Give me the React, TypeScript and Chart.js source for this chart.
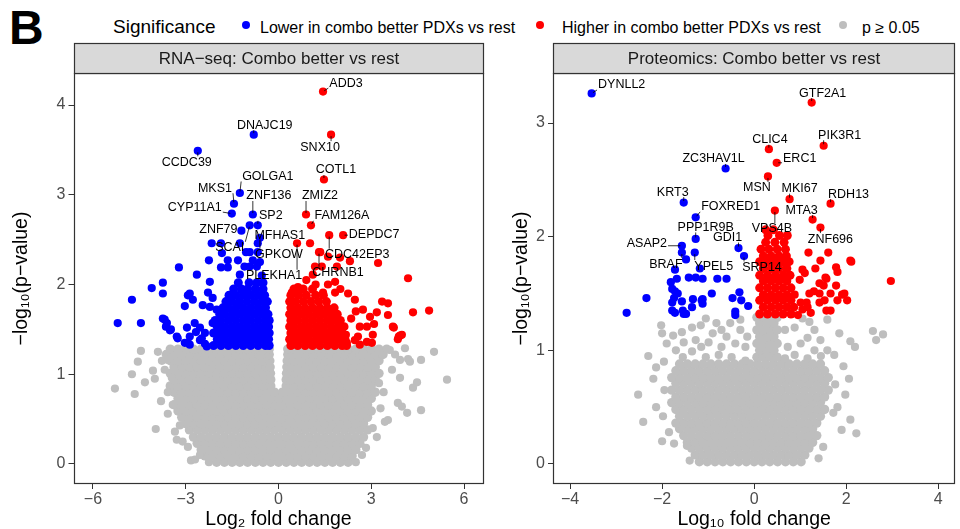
import React, { useEffect, useRef } from 'react';
import { Chart, registerables } from 'chart.js';

Chart.register(...registerables);

type Pt = [number, number];
type Row = [number, number[]];
type Lab = [string, number, number];

const FONT = '"Liberation Sans", Arial, Helvetica, sans-serif';

// ---------------- tick values ----------------
const rnaXTicks = [-6, -3, 0, 3, 6];
const rnaYTicks = [0, 1, 2, 3, 4];
const protXTicks = [-4, -2, 0, 2, 4];
const protYTicks = [0, 1, 2, 3];

// ---------------- RNA-seq: labelled genes (log2FC, -log10 p) ----------------
const rnaLowerLabelled: Lab[] = [
  ['DNAJC19', -0.8, 3.67], ['CCDC39', -2.61, 3.49], ['GOLGA1', -1.25, 3.02], ['MKS1', -1.44, 2.9],
  ['ZNF136', -0.83, 2.78], ['CYP11A1', -1.51, 2.79], ['SP2', -0.67, 2.66], ['ZNF79', -1.2, 2.6],
  ['SCAI', -0.93, 2.66], ['MFHAS1', -0.67, 2.46], ['GPKOW', -0.6, 2.52],
];
const rnaHigherLabelled: Lab[] = [
  ['ADD3', 1.44, 4.15], ['SNX10', 1.7, 3.67], ['COTL1', 1.47, 3.17], ['ZMIZ2', 0.89, 2.78],
  ['FAM126A', 1.05, 2.66], ['DEPDC7', 2.09, 2.55], ['CDC42EP3', 1.64, 2.55], ['PLEKHA1', 0.6, 2.46],
  ['CHRNB1', 1.31, 2.36],
];

// RNA-seq: other significant genes, lower in combo-better
const rnaLowerScatter: Pt[] = [
  [-2.16, 2.46], [-1.86, 2.46], [-1.25, 2.46], [-1.83, 2.35], [-0.93, 2.36], [-0.67, 2.36],
  [-2.25, 2.27], [-1.64, 2.27], [-1.31, 2.27], [-0.83, 2.27], [-3.22, 2.19], [-1.86, 2.19],
  [-1.64, 2.19], [-0.93, 2.2], [-0.7, 2.2], [-2.64, 2.11], [-1.25, 2.11], [-0.54, 2.1],
  [-3.74, 2.02], [-2.22, 2.03], [-4.1, 1.96], [-3.74, 1.9], [-2.87, 1.9], [-2.28, 1.91],
  [-2.93, 1.88], [-4.74, 1.83], [-2.77, 1.83], [-3.03, 1.76], [-2.45, 1.77], [-2.22, 1.75],
  [-2.0, 1.72], [-2.13, 1.85], [-5.2, 1.57], [-4.45, 1.57], [-3.74, 1.62], [-3.64, 1.53],
  [-3.48, 1.5], [-3.68, 1.61], [-3.61, 1.57], [-3.51, 1.49], [-3.29, 1.42], [-3.26, 1.4],
  [-2.96, 1.52], [-2.87, 1.42], [-2.71, 1.57], [-2.67, 1.47], [-2.54, 1.38], [-2.93, 1.35],
  [-2.32, 1.31], [-3.03, 1.35], [-2.87, 1.33], [-2.38, 1.34], [-2.48, 1.4], [-2.38, 1.46],
  [-2.54, 1.52], [-2.13, 1.57], [-1.05, 2.36], [-1.1, 2.2], [-0.6, 2.25],
];
const rnaLowerRows: Row[] = [
  [1.32, [-2.1, -1.86, -1.62, -1.38, -1.14, -0.9, -0.66, -0.42, -0.3]],
  [1.39, [-1.98, -1.74, -1.5, -1.26, -1.02, -0.78, -0.54, -0.32]],
  [1.46, [-2.1, -1.86, -1.62, -1.38, -1.14, -0.9, -0.66, -0.42, -0.3]],
  [1.53, [-1.98, -1.74, -1.5, -1.26, -1.02, -0.78, -0.54, -0.32]],
  [1.6, [-2.05, -1.86, -1.62, -1.38, -1.14, -0.9, -0.66, -0.42, -0.3]],
  [1.67, [-1.9, -1.74, -1.5, -1.26, -1.02, -0.78, -0.54, -0.34]],
  [1.74, [-1.8, -1.62, -1.38, -1.14, -0.9, -0.66, -0.42]],
  [1.81, [-1.7, -1.5, -1.26, -1.02, -0.78, -0.54, -0.36]],
  [1.88, [-1.6, -1.38, -1.14, -0.9, -0.66, -0.45]],
  [1.95, [-1.45, -1.2, -1.0, -0.75, -0.5]],
  [2.02, [-1.3, -0.95, -0.7, -0.5]],
];

// RNA-seq: other significant genes, higher in combo-better
const rnaHigherScatter: Pt[] = [
  [1.02, 2.46], [1.35, 2.36], [1.6, 2.31], [1.99, 2.3], [2.31, 2.26], [3.22, 2.24],
  [1.18, 2.2], [1.4, 2.2], [1.89, 2.2], [4.19, 2.07], [1.11, 2.11], [1.83, 2.03],
  [0.63, 1.97], [1.44, 1.91], [1.83, 1.91], [0.43, 1.91], [2.47, 1.83], [3.35, 1.81],
  [3.54, 1.79], [4.35, 1.69], [4.87, 1.71], [2.73, 1.72], [3.18, 1.69], [2.96, 1.64],
  [3.54, 1.66], [2.63, 1.53], [2.86, 1.53], [3.7, 1.53], [2.57, 1.42], [3.05, 1.44],
  [3.89, 1.42], [3.99, 1.44], [2.47, 1.38], [2.86, 1.36], [3.09, 1.56], [3.02, 1.35],
  [2.63, 1.33], [2.18, 1.44], [2.21, 1.35], [3.73, 1.52], [3.93, 1.43], [3.86, 1.39],
  [2.35, 1.62], [2.5, 1.7], [2.25, 1.9], [0.9, 2.05], [1.2, 2.0], [1.6, 2.0], [2.0, 1.95],
];
const rnaHigherRows: Row[] = [
  [1.32, [0.4, 0.62, 0.86, 1.1, 1.34, 1.58, 1.82, 2.06, 2.2]],
  [1.39, [0.36, 0.5, 0.74, 0.98, 1.22, 1.46, 1.7, 1.94, 2.15]],
  [1.46, [0.4, 0.62, 0.86, 1.1, 1.34, 1.58, 1.82, 2.06]],
  [1.53, [0.36, 0.5, 0.74, 0.98, 1.22, 1.46, 1.7, 1.94, 2.12]],
  [1.6, [0.4, 0.62, 0.86, 1.1, 1.34, 1.58, 1.82, 2.0]],
  [1.67, [0.36, 0.5, 0.74, 0.98, 1.22, 1.46, 1.7, 1.9]],
  [1.74, [0.4, 0.62, 0.86, 1.1, 1.34, 1.58, 1.8]],
  [1.81, [0.36, 0.55, 0.8, 1.05, 1.3, 1.55]],
  [1.88, [0.4, 0.65, 0.9, 1.2, 1.45]],
  [1.95, [0.5, 0.8, 1.1]],
];

// RNA-seq: non-significant genes (p >= 0.05)
const rnaNsRows: Row[] = [
  [0.02, [-2, -1.75, -1.5, -1.25, -1, -0.75, -0.5, -0.25, 0, 0.25, 0.5, 0.75, 1, 1.25, 1.5, 1.75, 2, 2.25]],
  [0.09, [-2.38, -2.13, -1.88, -1.63, -1.38, -1.13, -0.88, -0.63, -0.38, -0.13, 0.13, 0.38, 0.63, 0.88, 1.13, 1.38, 1.63, 1.88, 2.13, 2.38]],
  [0.16, [-2.5, -2.25, -2, -1.75, -1.5, -1.25, -1, -0.75, -0.5, -0.25, 0, 0.25, 0.5, 0.75, 1, 1.25, 1.5, 1.75, 2, 2.25, 2.5]],
  [0.23, [-2.63, -2.38, -2.13, -1.88, -1.63, -1.38, -1.13, -0.88, -0.63, -0.38, -0.13, 0.13, 0.38, 0.63, 0.88, 1.13, 1.38, 1.63, 1.88, 2.13, 2.38, 2.63]],
  [0.3, [-2.75, -2.5, -2.25, -2, -1.75, -1.5, -1.25, -1, -0.75, -0.5, -0.25, 0, 0.25, 0.5, 0.75, 1, 1.25, 1.5, 1.75, 2, 2.25, 2.5, 2.75]],
  [0.38, [-2.88, -2.63, -2.38, -2.13, -1.88, -1.63, -1.38, -1.13, -0.88, -0.63, -0.38, -0.13, 0.13, 0.38, 0.63, 0.88, 1.13, 1.38, 1.63, 1.88, 2.13, 2.38, 2.63, 2.88]],
  [0.45, [-3, -2.75, -2.5, -2.25, -2, -1.75, -1.5, -1.25, -1, -0.75, -0.5, -0.25, 0, 0.25, 0.5, 0.75, 1, 1.25, 1.5, 1.75, 2, 2.25, 2.5, 2.75]],
  [0.52, [-3.13, -2.88, -2.63, -2.38, -2.13, -1.88, -1.63, -1.38, -1.13, -0.88, -0.63, -0.38, -0.13, 0.13, 0.38, 0.63, 0.88, 1.13, 1.38, 1.63, 1.88, 2.13, 2.38, 2.63, 2.88]],
  [0.59, [-3.25, -3, -2.75, -2.5, -2.25, -2, -1.75, -1.5, -1.25, -1, -0.75, -0.5, -0.25, 0, 0.25, 0.5, 0.75, 1, 1.25, 1.5, 1.75, 2, 2.25, 2.5, 2.75, 3]],
  [0.66, [-3.38, -3.13, -2.88, -2.63, -2.38, -2.13, -1.88, -1.63, -1.38, -1.13, -0.88, -0.63, -0.38, -0.13, 0.13, 0.38, 0.63, 0.88, 1.13, 1.38, 1.63, 1.88, 2.13, 2.38, 2.63, 2.88]],
  [0.73, [-3.25, -3, -2.75, -2.5, -2.25, -2, -1.75, -1.5, -1.25, -1, -0.75, -0.5, -0.25, 0, 0.25, 0.5, 0.75, 1, 1.25, 1.5, 1.75, 2, 2.25, 2.5, 2.75, 3]],
  [0.8, [-3.38, -3.13, -2.88, -2.63, -2.38, -2.13, -1.88, -1.63, -1.38, -1.13, -0.88, -0.63, -0.38, -0.13, 0.13, 0.38, 0.63, 0.88, 1.13, 1.38, 1.63, 1.88, 2.13, 2.38, 2.63, 2.88, 3.13]],
  [0.87, [-3.5, -3.25, -3, -2.75, -2.5, -2.25, -2, -1.75, -1.5, -1.25, -1, -0.75, -0.5, -0.25, 0.25, 0.5, 0.75, 1, 1.25, 1.5, 1.75, 2, 2.25, 2.5, 2.75, 3]],
  [0.94, [-3.38, -3.13, -2.88, -2.63, -2.38, -2.13, -1.88, -1.63, -1.38, -1.13, -0.88, -0.63, -0.4, -0.25, 0.25, 0.4, 0.63, 0.88, 1.13, 1.38, 1.63, 1.88, 2.13, 2.38, 2.63, 2.88, 3.13]],
  [1.01, [-3.5, -3.25, -3, -2.75, -2.5, -2.25, -2, -1.75, -1.5, -1.25, -1, -0.75, -0.5, -0.26, 0.26, 0.5, 0.75, 1, 1.25, 1.5, 1.75, 2, 2.25, 2.5, 2.75, 3, 3.25]],
  [1.08, [-3.38, -3.13, -2.88, -2.63, -2.38, -2.13, -1.88, -1.63, -1.38, -1.13, -0.88, -0.63, -0.4, -0.27, 0.27, 0.4, 0.63, 0.88, 1.13, 1.38, 1.63, 1.88, 2.13, 2.38, 2.63, 2.88, 3.13]],
  [1.15, [-3.5, -3.25, -3, -2.75, -2.5, -2.25, -2, -1.75, -1.5, -1.25, -1, -0.75, -0.5, -0.28, 0.28, 0.5, 0.75, 1, 1.25, 1.5, 1.75, 2, 2.25, 2.5, 2.75, 3, 3.25]],
  [1.22, [-3.63, -3.38, -3.13, -2.88, -2.63, -2.38, -2.13, -1.88, -1.63, -1.38, -1.13, -0.88, -0.63, -0.42, -0.3, 0.3, 0.42, 0.63, 0.88, 1.13, 1.38, 1.63, 1.88, 2.13, 2.38, 2.63, 2.88, 3.13, 3.38]],
  [1.28, [-3.5, -3.25, -3, -2.75, -2.5, -2.25, -2, -1.75, -1.5, -1.25, -1, -0.75, -0.5, -0.3, 0.3, 0.5, 0.75, 1, 1.25, 1.5, 1.75, 2, 2.25, 2.5, 2.75, 3, 3.25, 3.5]],
];
const rnaNsScatter: Pt[] = [
  [-5.29, 0.84], [-4.65, 0.78], [-4.74, 1.0], [-4.55, 1.14], [-4.45, 1.26], [-4.32, 0.91],
  [-4.06, 1.04], [-3.97, 0.39], [-3.77, 1.15], [-3.58, 1.16], [-3.68, 1.05], [-3.45, 0.96],
  [-3.58, 0.8], [-3.42, 0.66], [-3.35, 0.36], [-3.29, 0.27], [-3.58, 0.56], [-2.93, 0.19],
  [-2.83, 0.04], [-2.54, 0.1], [-3.19, 0.43], [-2.25, 0.02], [-3.9, 1.25], [-4.0, 0.95],
  [-3.8, 0.7], [-3.1, 0.25], [-2.7, 0.05],
  [5.45, 0.94], [5.03, 1.25], [4.61, 1.16], [4.25, 1.14], [4.19, 1.17], [4.61, 0.6],
  [4.16, 0.57], [4.35, 0.85], [4.48, 0.91], [3.93, 0.96], [3.99, 0.64], [3.86, 0.68],
  [3.54, 0.49], [3.44, 0.47], [3.18, 0.3], [2.83, 0.18], [2.5, 0.02], [2.7, 0.1],
  [3.93, 1.16], [3.77, 1.22], [4.09, 1.29], [3.67, 1.05], [3.4, 0.8], [3.3, 0.62],
  [3.05, 0.4], [3.6, 1.27], [3.25, 0.9],
];

// ---------------- Proteomics: labelled proteins (log10FC, -log10 p) ----------------
const protLowerLabelled: Lab[] = [
  ['DYNLL2', -3.53, 3.26], ['ZC3HAV1L', -0.62, 2.6], ['KRT3', -1.53, 2.3], ['FOXRED1', -1.27, 2.17],
  ['PPP1R9B', -1.27, 1.98], ['ASAP2', -1.57, 1.92], ['GDI1', -0.34, 1.9], ['BRAF', -1.57, 1.86],
  ['YPEL5', -1.29, 1.86], ['SRP14', -0.22, 1.83],
];
const protHigherLabelled: Lab[] = [
  ['GTF2A1', 1.25, 3.18], ['PIK3R1', 1.51, 2.8], ['CLIC4', 0.32, 2.77], ['ERC1', 0.49, 2.65],
  ['MSN', 0.3, 2.53], ['MKI67', 0.77, 2.33], ['RDH13', 1.66, 2.29], ['VPS4B', 0.45, 2.23],
  ['MTA3', 1.27, 2.15], ['ZNF696', 1.44, 2.08],
];
const protLowerScatter: Pt[] = [
  [-1.48, 1.8], [-1.72, 1.71], [-1.18, 1.72], [-1.42, 1.64], [-1.27, 1.64], [-1.12, 1.63],
  [-0.8, 1.63], [-0.6, 1.63], [-1.81, 1.6], [-1.68, 1.63], [-1.78, 1.54], [-1.72, 1.52],
  [-2.34, 1.46], [-1.74, 1.46], [-1.57, 1.43], [-1.33, 1.45], [-1.12, 1.45], [-0.92, 1.5],
  [-0.47, 1.46], [-0.32, 1.51], [-0.28, 1.44], [-2.77, 1.33], [-1.78, 1.42], [-1.78, 1.35],
  [-1.72, 1.33], [-1.55, 1.35], [-1.48, 1.32], [-1.35, 1.38], [-1.12, 1.41], [-0.13, 1.39],
  [-0.41, 1.34], [-0.41, 1.31], [-1.66, 1.5], [-1.53, 1.32], [-1.14, 1.44],
];
const protLowerRows: Row[] = [];
const protHigherScatter: Pt[] = [
  [2.97, 1.61], [2.09, 1.79], [1.61, 1.86], [1.44, 1.79], [1.78, 1.73], [1.81, 1.69],
  [1.05, 1.71], [1.1, 1.68], [0.99, 1.62], [1.55, 1.64], [1.51, 1.57], [1.18, 1.86],
  [2.11, 1.78], [1.33, 1.72], [1.42, 1.59], [1.57, 1.63], [1.78, 1.57], [1.2, 1.5],
  [1.42, 1.5], [1.66, 1.5], [1.96, 1.5], [2.02, 1.44], [1.01, 1.42], [1.14, 1.42],
  [1.42, 1.42], [1.53, 1.44], [1.81, 1.44], [1.66, 1.35], [1.57, 1.35], [1.23, 1.33],
  [1.91, 1.49], [1.16, 1.38], [1.05, 1.36], [0.88, 1.49], [1.3, 1.52], [0.95, 1.31],
];
const protHigherRows: Row[] = [
  [1.32, [0.12, 0.29, 0.46, 0.63, 0.8]],
  [1.38, [0.2, 0.37, 0.54, 0.71, 0.86]],
  [1.44, [0.12, 0.29, 0.46, 0.63, 0.8]],
  [1.49, [0.2, 0.37, 0.54, 0.71]],
  [1.55, [0.12, 0.29, 0.46, 0.63, 0.8]],
  [1.61, [0.2, 0.37, 0.54, 0.71]],
  [1.66, [0.12, 0.29, 0.46, 0.63, 0.78]],
  [1.72, [0.2, 0.37, 0.54, 0.71]],
  [1.78, [0.12, 0.29, 0.46, 0.63, 0.76]],
  [1.83, [0.2, 0.37, 0.54, 0.7]],
  [1.89, [0.15, 0.32, 0.5, 0.68]],
  [1.95, [0.25, 0.45, 0.65]],
  [2.01, [0.3, 0.55, 0.72]],
  [2.06, [0.25, 0.42]],
];
const protNsRows: Row[] = [
  [0.02, [-1.19, -1.02, -0.85, -0.68, -0.51, -0.34, -0.17, 0, 0.17, 0.34, 0.51, 0.68, 0.85, 1.02]],
  [0.08, [-1.28, -1.11, -0.94, -0.77, -0.6, -0.43, -0.26, -0.09, 0.08, 0.25, 0.42, 0.59, 0.76, 0.93, 1.1]],
  [0.14, [-1.36, -1.19, -1.02, -0.85, -0.68, -0.51, -0.34, -0.17, 0, 0.17, 0.34, 0.51, 0.68, 0.85, 1.02, 1.19]],
  [0.19, [-1.45, -1.28, -1.11, -0.94, -0.77, -0.6, -0.43, -0.26, -0.09, 0.08, 0.25, 0.42, 0.59, 0.76, 0.93, 1.1, 1.27]],
  [0.25, [-1.53, -1.36, -1.19, -1.02, -0.85, -0.68, -0.51, -0.34, -0.17, 0, 0.17, 0.34, 0.51, 0.68, 0.85, 1.02, 1.19, 1.36]],
  [0.31, [-1.62, -1.45, -1.28, -1.11, -0.94, -0.77, -0.6, -0.43, -0.26, -0.09, 0.08, 0.25, 0.42, 0.59, 0.76, 0.93, 1.1, 1.27]],
  [0.36, [-1.7, -1.53, -1.36, -1.19, -1.02, -0.85, -0.68, -0.51, -0.34, -0.17, 0, 0.17, 0.34, 0.51, 0.68, 0.85, 1.02, 1.19, 1.36]],
  [0.42, [-1.62, -1.45, -1.28, -1.11, -0.94, -0.77, -0.6, -0.43, -0.26, -0.09, 0.08, 0.25, 0.42, 0.59, 0.76, 0.93, 1.1, 1.27, 1.44]],
  [0.48, [-1.7, -1.53, -1.36, -1.19, -1.02, -0.85, -0.68, -0.51, -0.34, -0.17, 0, 0.17, 0.34, 0.51, 0.68, 0.85, 1.02, 1.19, 1.36, 1.53]],
  [0.54, [-1.79, -1.62, -1.45, -1.28, -1.11, -0.94, -0.77, -0.6, -0.43, -0.26, -0.09, 0.08, 0.25, 0.42, 0.59, 0.76, 0.93, 1.1, 1.27, 1.44]],
  [0.59, [-1.7, -1.53, -1.36, -1.19, -1.02, -0.85, -0.68, -0.51, -0.34, -0.17, 0, 0.17, 0.34, 0.51, 0.68, 0.85, 1.02, 1.19, 1.36, 1.53]],
  [0.65, [-1.79, -1.62, -1.45, -1.28, -1.11, -0.94, -0.77, -0.6, -0.43, -0.26, -0.09, 0.08, 0.25, 0.42, 0.59, 0.76, 0.93, 1.1, 1.27, 1.44, 1.61]],
  [0.71, [-1.7, -1.53, -1.36, -1.19, -1.02, -0.85, -0.68, -0.51, -0.34, -0.17, 0, 0.17, 0.34, 0.51, 0.68, 0.85, 1.02, 1.19, 1.36, 1.53]],
  [0.76, [-1.79, -1.62, -1.45, -1.28, -1.11, -0.94, -0.77, -0.6, -0.43, -0.26, -0.09, 0.08, 0.25, 0.42, 0.59, 0.76, 0.93, 1.1, 1.27, 1.44, 1.61]],
  [0.82, [-1.7, -1.53, -1.36, -1.19, -1.02, -0.85, -0.68, -0.51, -0.34, -0.17, 0, 0.17, 0.34, 0.51, 0.68, 0.85, 1.02, 1.19, 1.36, 1.53]],
  [0.88, [-1.62, -1.45, -1.28, -1.11, -0.94, -0.77, -0.6, -0.43, -0.26, -0.09, 0.08, 0.25, 0.42, 0.59, 0.76, 0.93, 1.1, 1.27, 1.44]],
  [0.94, [0.06, 0.2, 0.35, 0.5]],
  [1.0, [0.12, 0.28, 0.43]],
  [1.06, [0.06, 0.2, 0.35, 0.5]],
  [1.12, [0.12, 0.28, 0.43]],
  [1.18, [0.06, 0.2, 0.35, 0.5]],
  [1.24, [0.12, 0.28, 0.43]],
  [1.29, [0.06, 0.2, 0.35, 0.5]],
];
const protNsScatter: Pt[] = [
  [-2.02, 1.22], [-2.0, 1.15], [-1.76, 1.13], [-1.57, 1.16], [-1.35, 1.2], [-1.16, 1.22],
  [-1.05, 1.28], [-0.82, 1.24], [-0.71, 1.18], [-0.52, 1.24], [-0.3, 1.18], [-1.53, 1.07],
  [-1.27, 1.09], [-0.99, 1.07], [-0.71, 1.03], [-0.41, 1.06], [-0.19, 1.03], [-1.7, 1.0],
  [-1.35, 0.99], [-1.05, 0.94], [-0.77, 0.96], [-0.49, 0.94], [-0.19, 0.91], [0.67, 1.18],
  [0.88, 1.2], [1.05, 1.28], [1.31, 1.18], [1.59, 1.27], [1.16, 1.11], [1.44, 1.09],
  [1.01, 1.06], [0.73, 1.03], [1.31, 1.0], [1.59, 1.0], [1.74, 0.96], [0.88, 0.96],
  [1.16, 0.93], [0.67, 0.93], [-0.6, 1.12], [-0.9, 1.15], [-1.15, 1.03], [-0.3, 1.27],
  [-0.15, 1.12], [1.2, 1.25], [1.45, 0.95], [-1.55, 0.94], [-1.9, 1.06],
  [-2.52, 0.61], [-2.41, 0.37], [-2.13, 0.5], [-1.98, 0.42], [-2.19, 0.75], [-2.3, 0.95],
  [-2.13, 0.85], [-1.74, 0.18], [-1.46, 0.16], [-1.85, 0.28], [2.22, 0.27], [2.09, 0.39],
  [1.72, 0.45], [1.98, 0.61], [2.06, 0.75], [1.94, 0.86], [2.19, 1.03], [2.09, 1.08],
  [2.58, 1.17], [2.8, 1.14], [2.65, 1.09], [1.85, 1.15], [1.76, 0.7], [1.81, 0.5],
  [-1.95, 0.65], [-2.0, 0.2], [1.5, 0.15], [1.4, 0.05], [-1.4, 0.03], [1.9, 0.3], [-1.96, 0.9],
];

// ---------------- label placement (pixel offsets of label centre from its point) ----------------
const rnaLabelOffsets: Record<string, [number, number]> = {
  ADD3: [23, -9], DNAJC19: [11, -10], SNX10: [-11, 12], CCDC39: [-11, 11], COTL1: [12, -10],
  GOLGA1: [28, -17], MKS1: [-19, -16], ZNF136: [16, -19], CYP11A1: [-37, -7], ZMIZ2: [14, -19],
  SP2: [13, -10], FAM126A: [31, -10], ZNF79: [-23, -2], SCAI: [-20, 22], DEPDC7: [31, -1],
  MFHAS1: [22, -8], GPKOW: [19, 16], CDC42EP3: [28, 19], PLEKHA1: [-23, 32], CHRNB1: [19, 20],
};
const protLabelOffsets: Record<string, [number, number]> = {
  DYNLL2: [30, -9], GTF2A1: [11, -10], PIK3R1: [16, -11], CLIC4: [1, -10], ERC1: [23, -5],
  ZC3HAV1L: [-12, -10], MSN: [-11, 11], KRT3: [-11, -11], MKI67: [10, -11], RDH13: [18, -10],
  FOXRED1: [35, -11], VPS4B: [-3, 18], MTA3: [-11, -10], ZNF696: [10, 11], PPP1R9B: [10, -12],
  ASAP2: [-35, -3], GDI1: [-11, -11], BRAF: [-16, 11], YPEL5: [19, 13], SRP14: [18, 11],
};

const fromRows = (rows: Row[]): Pt[] => rows.flatMap(([y, xs]) => xs.map((x) => [x, y] as Pt));
const toXY = (pts: Pt[]) => pts.map(([x, y]) => ({ x, y }));
const labPts = (labs: Lab[]): Pt[] => labs.map(([, x, y]) => [x, y] as Pt);
const fmtTick = (v: number) => (v < 0 ? '\u2212' + Math.abs(v) : String(v));

function panelPlugin(title: string) {
  return {
    id: 'panelFrame',
    afterDraw(chart: any) {
      const { ctx, chartArea } = chart;
      const l = Math.round(chartArea.left) + 0.5;
      const r = Math.round(chartArea.right) - 0.5;
      const t = Math.round(chartArea.top) + 0.5;
      const b = Math.round(chartArea.bottom) - 0.5;
      ctx.save();
      ctx.lineWidth = 1.2;
      ctx.strokeStyle = '#333333';
      ctx.strokeRect(l, t, r - l, b - t);
      const st = t - 30;
      ctx.fillStyle = '#D9D9D9';
      ctx.fillRect(l, st, r - l, 30);
      ctx.strokeRect(l, st, r - l, 30);
      ctx.fillStyle = '#1A1A1A';
      ctx.font = `17px ${FONT}`;
      ctx.textAlign = 'center';
      ctx.textBaseline = 'middle';
      ctx.fillText(title, (l + r) / 2, st + 16);
      ctx.restore();
    },
  };
}

function labelPlugin(labs: Lab[], offsets: Record<string, [number, number]>) {
  return {
    id: 'geneLabels',
    afterDatasetsDraw(chart: any) {
      const { ctx } = chart;
      const xs = chart.scales.x;
      const ys = chart.scales.y;
      ctx.save();
      ctx.font = `12.5px ${FONT}`;
      ctx.fillStyle = '#000';
      ctx.strokeStyle = '#000';
      ctx.lineWidth = 0.8;
      ctx.textAlign = 'center';
      ctx.textBaseline = 'middle';
      for (const [name, vx, vy] of labs) {
        const px = xs.getPixelForValue(vx);
        const py = ys.getPixelForValue(vy);
        const [dx, dy] = offsets[name] || [0, -10];
        const cx = px + dx;
        const cy = py + dy;
        const w = ctx.measureText(name).width + 2;
        const h = 11;
        const bx = Math.max(cx - w / 2, Math.min(px, cx + w / 2));
        const by = Math.max(cy - h / 2, Math.min(py, cy + h / 2));
        const d = Math.hypot(bx - px, by - py);
        if (d > 3) {
          ctx.beginPath();
          ctx.moveTo(px + ((bx - px) / d) * 1.5, py + ((by - py) / d) * 1.5);
          ctx.lineTo(bx, by);
          ctx.stroke();
        }
        ctx.fillText(name, cx, cy + 0.5);
      }
      ctx.restore();
    },
  };
}

interface PanelProps {
  title: string;
  xTitle: string;
  xMin: number;
  xMax: number;
  yMin: number;
  yMax: number;
  xTicks: number[];
  yTicks: number[];
  grayCore: Pt[];
  gray: Pt[];
  lowerCore: Pt[];
  lower: Pt[];
  higherCore: Pt[];
  higher: Pt[];
  labels: Lab[];
  offsets: Record<string, [number, number]>;
  left: number;
  width: number;
  yAxisWidth: number;
  yTitlePad: number;
  padRight: number;
}

const GRAY = '#BEBEBE';
const BLUE = '#0000FF';
const RED = '#FF0000';

function ds(label: string, pts: Pt[], color: string, radius: number, order: number) {
  return {
    label,
    data: toXY(pts),
    backgroundColor: color,
    borderColor: color,
    pointRadius: radius,
    pointHoverRadius: radius,
    pointBorderWidth: 0,
    borderWidth: 0,
    order,
  };
}

function Volcano(p: PanelProps) {
  const ref = useRef<HTMLCanvasElement | null>(null);
  useEffect(() => {
    if (!ref.current) return;
    const chart = new Chart(ref.current, {
      type: 'scatter',
      data: {
        datasets: [
          ds('p \u2265 0.05 (core)', p.grayCore, GRAY, 4.7, 6),
          ds('p \u2265 0.05', p.gray, GRAY, 4.1, 5),
          ds('Lower (core)', p.lowerCore, BLUE, 4.5, 4),
          ds('Lower', p.lower, BLUE, 4.1, 3),
          ds('Higher (core)', p.higherCore, RED, 4.5, 2),
          ds('Higher', p.higher, RED, 4.1, 1),
        ],
      },
      options: {
        animation: false,
        responsive: false,
        devicePixelRatio: 1,
        events: [],
        layout: { padding: { top: 33, right: p.padRight, bottom: 0, left: 0 } },
        plugins: { legend: { display: false }, tooltip: { enabled: false } },
        scales: {
          x: {
            type: 'linear',
            min: p.xMin,
            max: p.xMax,
            afterBuildTicks: (s: any) => { s.ticks = p.xTicks.map((v) => ({ value: v })); },
            afterFit: (s: any) => { s.height = 45; },
            grid: { display: true, drawOnChartArea: false, drawTicks: true, tickLength: 5, color: '#333333', lineWidth: 1 },
            border: { display: false },
            ticks: { autoSkip: false, maxRotation: 0, padding: 1, color: '#4D4D4D', font: { family: FONT, size: 16 }, callback: (v: any) => fmtTick(Number(v)) },
            title: { display: true, text: p.xTitle, color: '#000', font: { family: FONT, size: 19.5, lineHeight: 1 }, padding: { top: 0, bottom: 0 } },
          },
          y: {
            type: 'linear',
            min: p.yMin,
            max: p.yMax,
            afterBuildTicks: (s: any) => { s.ticks = p.yTicks.map((v) => ({ value: v })); },
            afterFit: (s: any) => { s.width = p.yAxisWidth; },
            grid: { display: true, drawOnChartArea: false, drawTicks: true, tickLength: 5, color: '#333333', lineWidth: 1 },
            border: { display: false },
            ticks: { autoSkip: false, padding: 3, color: '#4D4D4D', font: { family: FONT, size: 16 }, callback: (v: any) => fmtTick(Number(v)) },
            title: { display: true, text: '\u2212log\u2081\u2080(p\u2212value)', color: '#000', font: { family: FONT, size: 19.5, lineHeight: 1.2 }, padding: { top: p.yTitlePad, bottom: 0 } },
          },
        },
      },
      plugins: [panelPlugin(p.title), labelPlugin(p.labels, p.offsets)],
    } as any);
    return () => chart.destroy();
  }, []);
  return (
    <canvas
      ref={ref}
      width={p.width}
      height={489}
      style={{ position: 'absolute', left: p.left, top: 40, width: p.width, height: 489 }}
    />
  );
}

const legendText: React.CSSProperties = { position: 'absolute', whiteSpace: 'nowrap', lineHeight: 1, color: '#000' };
const dot = (left: number, color: string): React.CSSProperties => ({
  position: 'absolute', left, top: 20.7, width: 8, height: 8, borderRadius: '50%', background: color,
});

export default function App() {
  return (
    <div style={{ position: 'fixed', left: 0, top: 0, width: 960, height: 529, overflow: 'hidden', background: '#fff', fontFamily: FONT }}>
      <div style={{ ...legendText, left: 9, top: 4.4, fontSize: 48, fontWeight: 'bold' }}>B</div>
      <div style={{ ...legendText, left: 113, top: 16.9, fontSize: 19 }}>Significance</div>
      <div style={dot(241.7, BLUE)} />
      <div style={{ ...legendText, left: 260, top: 19.5, fontSize: 16 }}>Lower in combo better PDXs vs rest</div>
      <div style={dot(536, RED)} />
      <div style={{ ...legendText, left: 562, top: 19.5, fontSize: 16 }}>Higher in combo better PDXs vs rest</div>
      <div style={dot(839, GRAY)} />
      <div style={{ ...legendText, left: 862, top: 19.5, fontSize: 16 }}>p {'\u2265'} 0.05</div>

      <Volcano
        title={'RNA\u2212seq: Combo better vs rest'}
        xTitle={'Log\u2082 fold change'}
        xMin={-6.63}
        xMax={6.63}
        yMin={-0.223}
        yMax={4.357}
        xTicks={rnaXTicks}
        yTicks={rnaYTicks}
        grayCore={fromRows(rnaNsRows)}
        gray={rnaNsScatter}
        lowerCore={fromRows(rnaLowerRows)}
        lower={[...rnaLowerScatter, ...labPts(rnaLowerLabelled)]}
        higherCore={fromRows(rnaHigherRows)}
        higher={[...rnaHigherScatter, ...labPts(rnaHigherLabelled)]}
        labels={[...rnaLowerLabelled, ...rnaHigherLabelled]}
        offsets={rnaLabelOffsets}
        left={0}
        width={490}
        yAxisWidth={73.5}
        yTitlePad={10.3}
        padRight={6.5}
      />
      <Volcano
        title="Proteomics: Combo better vs rest"
        xTitle={'Log\u2081\u2080 fold change'}
        xMin={-4.37}
        xMax={4.37}
        yMin={-0.176}
        yMax={3.44}
        xTicks={protXTicks}
        yTicks={protYTicks}
        grayCore={fromRows(protNsRows)}
        gray={protNsScatter}
        lowerCore={fromRows(protLowerRows)}
        lower={[...protLowerScatter, ...labPts(protLowerLabelled)]}
        higherCore={fromRows(protHigherRows)}
        higher={[...protHigherScatter, ...labPts(protHigherLabelled)]}
        labels={[...protLowerLabelled, ...protHigherLabelled]}
        offsets={protLabelOffsets}
        left={490}
        width={470}
        yAxisWidth={63}
        yTitlePad={20.3}
        padRight={0}
      />
    </div>
  );
}
